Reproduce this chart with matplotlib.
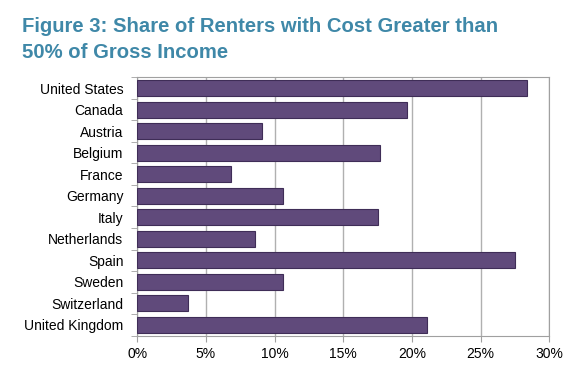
import numpy as np
import matplotlib.pyplot as plt
from matplotlib.ticker import FuncFormatter

countries = ["United States", "Canada", "Austria", "Belgium", "France", "Germany",
             "Italy", "Netherlands", "Spain", "Sweden", "Switzerland", "United Kingdom"]
share = [28.4, 19.6, 9.1, 17.7, 6.8, 10.6, 17.5, 8.6, 27.5, 10.6, 3.7, 21.1]
xticks = [0, 5, 10, 15, 20, 25, 30]

plt.rcParams['font.family'] = ['Liberation Sans', 'DejaVu Sans']

fig = plt.figure(figsize=(5.76, 3.73), dpi=100)
ax = fig.add_axes([0.2384, 0.100, 0.7153, 0.6928])

y = np.arange(len(countries))
ax.barh(y, share, height=0.75, color='#604a7b', edgecolor='#3f2d57', linewidth=0.8, zorder=3)

ax.set_ylim(len(countries) - 0.5, -0.5)
ax.set_yticks(y)
ax.set_yticklabels(countries, fontsize=10)
ax.set_yticks(np.arange(-0.5, len(countries)), minor=True)
ax.tick_params(axis='y', which='major', length=0, pad=10)
ax.tick_params(axis='y', which='minor', length=4, color='#a0a0a0', direction='out')

ax.set_xlim(0, 30)
ax.set_xticks(xticks)
ax.xaxis.set_major_formatter(FuncFormatter(lambda v, p: f"{int(v)}%"))
ax.tick_params(axis='x', labelsize=10, length=4, color='#a0a0a0', pad=4)

ax.xaxis.grid(True, color='#b0b0b0', linewidth=1.0, zorder=0)
ax.set_axisbelow(True)
for s in ax.spines.values():
    s.set_color('#a0a0a0')
    s.set_linewidth(0.8)

title_kw = dict(ha='left', va='baseline', fontsize=14.6, fontweight='bold', color='#3f88a8')
fig.text(0.038, 0.915, "Figure 3: Share of Renters with Cost Greater than", **title_kw)
fig.text(0.038, 0.8437, "50% of Gross Income", **title_kw)

fig.savefig("out.png", dpi=100)
